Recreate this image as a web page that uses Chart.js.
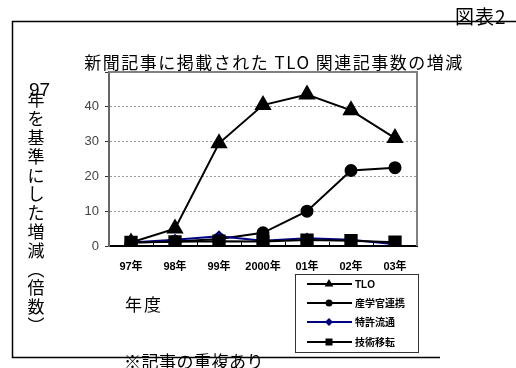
<!DOCTYPE html>
<html>
<head>
<meta charset="utf-8">
<script src="https://cdn.jsdelivr.net/npm/chart.js@4.4.0/dist/chart.umd.min.js"></script>
<style>
html, body { margin: 0; padding: 0; background: #fff; }
canvas { display: block; }
</style>
</head>
<body>
<canvas id="chart" width="516" height="368"></canvas>
<script>
var YEARS = ['97年', '98年', '99年', '2000年', '01年', '02年', '03年'];
var TLO = [1, 5, 29.5, 40.5, 43.5, 39, 31];
var SANGAKU = [1, 1.3, 2, 3.8, 10, 21.7, 22.5];
var TOKKYO = [1, 1.8, 2.8, 1.5, 2.2, 1.8, 0.5];
var ITEN = [1, 1.2, 1.4, 1.3, 1.7, 1.5, 1.1];
var Y_TICKS = [0, 10, 20, 30, 40];

var JP = "'Noto Sans CJK JP', sans-serif";
var NUM = "'Liberation Sans', 'Noto Sans CJK JP', sans-serif";

function marker(ctx, style, x, y, r, color) {
    ctx.save();
    ctx.fillStyle = color;
    ctx.beginPath();
    if (style === 'triangle') {
        ctx.moveTo(x, y - r);
        ctx.lineTo(x + r * 0.87, y + r * 0.5);
        ctx.lineTo(x - r * 0.87, y + r * 0.5);
        ctx.closePath();
    } else if (style === 'circle') {
        ctx.arc(x, y, r, 0, Math.PI * 2);
    } else if (style === 'rectRot') {
        ctx.moveTo(x, y - r);
        ctx.lineTo(x + r, y);
        ctx.lineTo(x, y + r);
        ctx.lineTo(x - r, y);
        ctx.closePath();
    } else {
        ctx.rect(x - r, y - r, r * 2, r * 2);
    }
    ctx.fill();
    ctx.restore();
}

var decor = {
    id: 'decor',
    beforeDatasetsDraw: function (chart) {
        var ctx = chart.ctx, a = chart.chartArea;
        ctx.save();
        ctx.strokeStyle = '#808080';
        ctx.lineWidth = 2;
        ctx.beginPath();
        ctx.moveTo(a.left, a.top);
        ctx.lineTo(a.right, a.top);
        ctx.lineTo(a.right, a.bottom);
        ctx.stroke();
        // small inner ticks between categories
        var step = (a.right - a.left) / YEARS.length;
        ctx.strokeStyle = '#000';
        ctx.lineWidth = 1;
        for (var i = 1; i < YEARS.length; i++) {
            var px = Math.round(a.left + step * i) + 0.5;
            ctx.beginPath();
            ctx.moveTo(px, a.bottom);
            ctx.lineTo(px, a.bottom - 4);
            ctx.stroke();
        }
        ctx.restore();
    },
    afterDraw: function (chart) {
        var ctx = chart.ctx;
        ctx.save();
        // outer frame
        ctx.strokeStyle = '#000';
        ctx.lineWidth = 1.5;
        ctx.beginPath();
        ctx.moveTo(516, 21.5);
        ctx.lineTo(12.5, 21.5);
        ctx.lineTo(12.5, 357.5);
        ctx.lineTo(440, 357.5);
        ctx.stroke();

        ctx.fillStyle = '#000';
        ctx.textBaseline = 'middle';
        ctx.letterSpacing = '1px';
        ctx.font = '19px ' + JP;
        ctx.textAlign = 'left';
        ctx.fillText('図表2', 455, 17);

        ctx.letterSpacing = '1.5px';
        ctx.textAlign = 'center';
        ctx.font = '17px ' + JP;
        ctx.fillText('新聞記事に掲載された TLO 関連記事数の増減', 274, 63);

        // vertical axis title
        ctx.letterSpacing = '0px';
        ctx.font = '19px ' + NUM;
        ctx.textAlign = 'left';
        ctx.fillText('97', 29, 91);
        var chars = ['年', 'を', '基', '準', 'に', 'し', 'た', '増', '減', '︵', '倍', '数', '︶'];
        ctx.font = '17px ' + JP;
        ctx.textAlign = 'center';
        for (var i = 0; i < chars.length; i++) {
            ctx.fillText(chars[i], 36, 100 + i * 18.8);
        }

        ctx.letterSpacing = '2px';
        ctx.textAlign = 'left';
        ctx.fillText('年度', 125, 305);
        ctx.letterSpacing = '0.5px';
        ctx.fillText('※記事の重複あり', 124, 362);
        ctx.letterSpacing = '0px';

        // legend
        ctx.strokeStyle = '#333';
        ctx.lineWidth = 1;
        ctx.strokeRect(295.5, 274.5, 123, 78);
        var rows = [284, 303, 322, 342];
        var sizes = [5, 3.5, 4, 3.5];
        chart.data.datasets.forEach(function (ds, k) {
            var y = rows[k];
            ctx.strokeStyle = ds.borderColor;
            ctx.lineWidth = 2;
            ctx.beginPath();
            ctx.moveTo(307, y);
            ctx.lineTo(352, y);
            ctx.stroke();
            marker(ctx, ds.pointStyle, 329, y, sizes[k], ds.borderColor);
            ctx.fillStyle = '#000';
            ctx.font = 'bold 10px ' + NUM;
            ctx.textAlign = 'left';
            ctx.fillText(ds.label, 355, y + 1);
        });
        ctx.restore();
    }
};

var ctx = document.getElementById('chart').getContext('2d');
window.myLine = new Chart(ctx, {
    type: 'line',
    data: {
        labels: YEARS,
        datasets: [{
                label: 'TLO',
                data: TLO,
                borderColor: '#000',
                backgroundColor: '#000',
                borderWidth: 2,
                pointStyle: 'triangle',
                pointRadius: 8,
                order: 3
            },
            {
                label: '産学官連携',
                data: SANGAKU,
                borderColor: '#000',
                backgroundColor: '#000',
                borderWidth: 2,
                pointStyle: 'circle',
                pointRadius: 5.5,
                order: 2
            },
            {
                label: '特許流通',
                data: TOKKYO,
                borderColor: '#000080',
                backgroundColor: '#000080',
                borderWidth: 2,
                pointStyle: 'rectRot',
                pointRadius: 4.5,
                order: 1
            },
            {
                label: '技術移転',
                data: ITEN,
                borderColor: '#000',
                backgroundColor: '#000',
                borderWidth: 2,
                pointStyle: 'rect',
                pointRadius: 8,
                order: 0
            }
        ]
    },
    options: {
        responsive: false,
        animation: false,
        devicePixelRatio: 1,
        layout: { padding: { left: 0, top: 72, right: 99, bottom: 0 } },
        plugins: {
            legend: { display: false },
            tooltip: { enabled: false }
        },
        scales: {
            x: {
                offset: true,
                grid: { display: false },
                border: { display: true, color: '#000', width: 2 },
                ticks: {
                    color: '#000',
                    padding: 6,
                    maxRotation: 0,
                    autoSkip: false,
                    font: { family: NUM, size: 11, weight: 'bold' }
                },
                afterFit: function (s) { s.height = 368 - 246; }
            },
            y: {
                min: 0,
                max: 50,
                afterBuildTicks: function (s) {
                    s.ticks = Y_TICKS.concat([50]).map(function (v) { return { value: v }; });
                },
                ticks: {
                    color: '#444',
                    padding: 6,
                    font: { family: NUM, size: 13 },
                    callback: function (v) { return Y_TICKS.indexOf(v) >= 0 ? String(v) : ''; }
                },
                grid: {
                    color: function (c) {
                        return (c.tick && (c.tick.value === 0 || c.tick.value === 50)) ? 'rgba(0,0,0,0)' : '#999';
                    },
                    tickColor: '#333',
                    tickLength: 4,
                    lineWidth: 1
                },
                border: { display: true, color: '#666', width: 2, dash: [2, 2] },
                afterFit: function (s) { s.width = 109; }
            }
        }
    },
    plugins: [decor]
});
</script>
</body>
</html>
